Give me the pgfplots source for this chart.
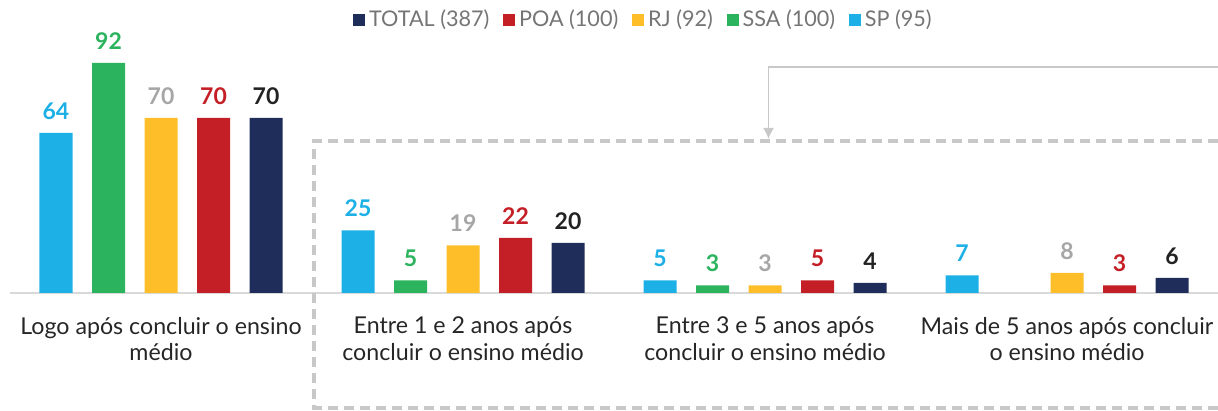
\documentclass[border=0pt]{standalone}
\usepackage{fontspec}
\setmainfont{Lato}
\usepackage{pgfplots}
\pgfplotsset{compat=1.18}
\usetikzlibrary{arrows.meta}
\definecolor{cSP}{HTML}{1CB0E6}
\definecolor{cSSA}{HTML}{2BB35E}
\definecolor{cRJ}{HTML}{FDBE2A}
\definecolor{cPOA}{HTML}{C41F26}
\definecolor{cTOT}{HTML}{1F2D5A}
\definecolor{lRJ}{HTML}{A6A6A6}
\definecolor{lTOT}{HTML}{222222}
\definecolor{gridc}{HTML}{D9D9D9}
\definecolor{deco}{HTML}{C8C8C8}
\definecolor{txt}{HTML}{262626}
\definecolor{legtxt}{HTML}{757575}
\begin{document}
\begin{tikzpicture}
\path[use as bounding box] (0pt,-59pt) rectangle (609pt,146.5pt);
\begin{axis}[
  at={(5pt,0pt)}, anchor=south west,
  scale only axis, width=604pt, height=146.5pt,
  xmin=-0.5, xmax=3.5, ymin=0, ymax=117.2,
  axis x line*=bottom, axis y line=none,
  x axis line style={draw=gridc, line width=0.9pt},
  xtick={0,1,2,3},
  xticklabels={Logo após concluir o ensino\\médio, Entre 1 e 2 anos após\\concluir o ensino médio, Entre 3 e 5 anos após\\concluir o ensino médio, Mais de 5 anos após concluir\\o ensino médio},
  major tick length=0pt,
  xticklabel style={align=center, font=\fontsize{11.6}{13.2}\selectfont, text=txt, yshift=-8.5pt},
  ytick=\empty,
  clip=false,
  /pgf/number format/assume math mode=true,
  ybar, bar width=16.5pt,
  nodes near coords,
  every node near coord/.append style={font=\bfseries\fontsize{11.5}{13}\selectfont, anchor=base, yshift=6.8pt},
  legend style={at={(axis cs:1.601,109.4)}, anchor=center, draw=none, fill=none,
    font=\fontsize{10.8}{12}\selectfont, text=legtxt,
    /tikz/every even column/.append style={column sep=5pt}},
  legend columns=5,
]
\addlegendimage{legend image code/.code={\fill[cTOT] (0pt,-2.75pt) rectangle (5.5pt,2.75pt);}}
\addlegendentry{TOTAL (387)}
\addlegendimage{legend image code/.code={\fill[cPOA] (0pt,-2.75pt) rectangle (5.5pt,2.75pt);}}
\addlegendentry{POA (100)}
\addlegendimage{legend image code/.code={\fill[cRJ] (0pt,-2.75pt) rectangle (5.5pt,2.75pt);}}
\addlegendentry{RJ (92)}
\addlegendimage{legend image code/.code={\fill[cSSA] (0pt,-2.75pt) rectangle (5.5pt,2.75pt);}}
\addlegendentry{SSA (100)}
\addlegendimage{legend image code/.code={\fill[cSP] (0pt,-2.75pt) rectangle (5.5pt,2.75pt);}}
\addlegendentry{SP (95)}

\addplot[forget plot, fill=cSP, draw=none, bar shift=-52.5pt, nodes near coords style={text=cSP}]
  coordinates {(0,64) (1,25) (2,5) (3,7)};
\addplot[forget plot, fill=cSSA, draw=none, bar shift=-26.25pt, nodes near coords style={text=cSSA}]
  coordinates {(0,92) (1,5) (2,3)};
\addplot[forget plot, fill=cRJ, draw=none, bar shift=0pt, nodes near coords style={text=lRJ}]
  coordinates {(0,70) (1,19) (2,3) (3,8)};
\addplot[forget plot, fill=cPOA, draw=none, bar shift=26.25pt, nodes near coords style={text=cPOA}]
  coordinates {(0,70) (1,22) (2,5) (3,3)};
\addplot[forget plot, fill=cTOT, draw=none, bar shift=52.5pt, nodes near coords style={text=lTOT}]
  coordinates {(0,70) (1,20) (2,4) (3,6)};

\draw[deco, line width=2pt, dash pattern=on 5pt off 3pt] (axis cs:3.5,60.8) -- (axis cs:0.508,60.8) -- (axis cs:0.508,-46) -- (axis cs:3.5,-46);
\draw[deco, line width=0.8pt, -{Latex[length=5.5pt,width=5.5pt]}] (axis cs:3.5,90.4) -- (axis cs:2.0116,90.4) -- (axis cs:2.0116,61.6);
\end{axis}
\end{tikzpicture}
\end{document}
